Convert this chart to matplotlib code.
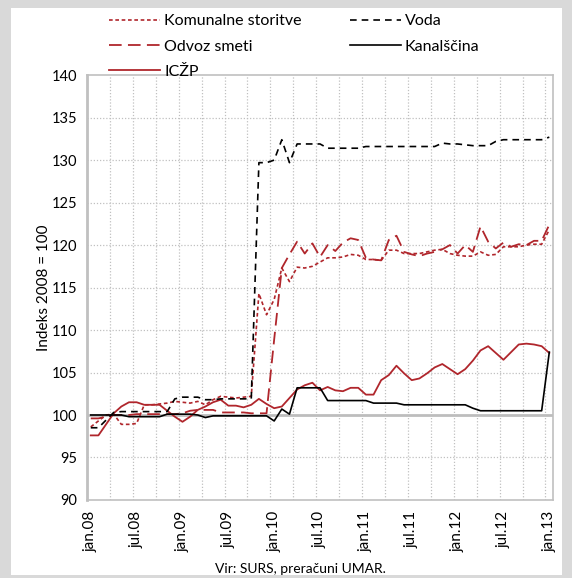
import matplotlib
matplotlib.use("Agg")
import matplotlib.pyplot as plt
from matplotlib.patches import Rectangle

# mesečni indeksi, 2008 = 100 (jan.08 ... jan.13)
komunalne = [98.6, 99.3, 100.0, 100.1, 98.9, 98.9, 99.0, 101.2, 101.2, 101.3,
             101.4, 101.6, 101.5, 101.4, 101.6, 101.2, 101.8, 102.2, 102.1, 102.0,
             102.1, 102.2, 114.3, 111.8, 113.6, 117.3, 115.7, 117.4, 117.3, 117.5,
             118.0, 118.5, 118.5, 118.6, 118.9, 118.8, 118.3, 118.3, 118.2, 119.4,
             119.4, 119.0, 119.0, 119.0, 119.2, 119.4, 119.5, 119.0, 118.8, 118.7,
             118.7, 119.2, 118.8, 118.9, 119.8, 119.8, 119.8, 120.0, 120.1, 120.1,
             121.8]
odvoz = [99.6, 99.6, 99.8, 100.0, 100.0, 100.0, 100.1, 100.1, 100.1, 100.1,
         100.1, 100.1, 100.2, 100.5, 100.6, 100.6, 100.6, 100.3, 100.3, 100.3,
         100.3, 100.2, 100.2, 100.2, 108.9, 117.3, 118.9, 120.4, 119.0, 120.2,
         118.6, 120.0, 119.3, 120.3, 120.8, 120.6, 118.5, 118.3, 118.2, 120.6,
         121.1, 119.2, 118.9, 118.7, 119.0, 119.2, 119.5, 120.0, 119.0, 120.0,
         119.2, 122.2, 120.4, 119.6, 120.3, 119.8, 120.1, 120.0, 120.5, 120.5,
         122.4]
iczp = [97.6, 97.6, 98.9, 100.2, 101.0, 101.5, 101.5, 101.2, 101.2, 101.2,
        100.5, 99.8, 99.2, 99.8, 100.6, 101.0, 101.5, 101.8, 101.1, 101.1,
        100.9, 101.2, 101.9, 101.3, 100.8, 101.0, 102.0, 103.0, 103.5, 103.8,
        102.9, 103.3, 102.9, 102.8, 103.2, 103.2, 102.4, 102.4, 104.1, 104.7,
        105.8, 104.9, 104.1, 104.3, 104.9, 105.6, 106.0, 105.4, 104.8, 105.4,
        106.4, 107.6, 108.1, 107.3, 106.5, 107.4, 108.3, 108.4, 108.3, 108.1,
        107.3]
voda = [98.5, 98.5, 99.4, 100.3, 100.4, 100.4, 100.4, 100.4, 100.4, 100.4,
        100.4, 101.9, 102.1, 102.1, 102.1, 101.8, 101.8, 101.9, 101.9, 101.9,
        101.9, 101.9, 129.7, 129.7, 130.0, 132.4, 129.7, 131.9, 131.9, 131.9,
        131.9, 131.4, 131.4, 131.4, 131.4, 131.4, 131.6, 131.6, 131.6, 131.6,
        131.6, 131.6, 131.6, 131.6, 131.6, 131.6, 132.0, 131.9, 131.9, 131.8,
        131.7, 131.7, 131.7, 132.2, 132.4, 132.4, 132.4, 132.4, 132.4, 132.4,
        132.7]
kanalscina = [100.0, 100.0, 100.0, 100.0, 100.0, 99.8, 99.8, 99.8, 99.8, 99.8,
              100.1, 100.1, 100.1, 100.1, 100.0, 99.7, 99.9, 99.9, 99.9, 99.9,
              99.9, 99.9, 99.9, 99.9, 99.3, 100.7, 100.1, 103.2, 103.2, 103.2,
              103.2, 101.7, 101.7, 101.7, 101.7, 101.7, 101.7, 101.4, 101.4, 101.4,
              101.4, 101.2, 101.2, 101.2, 101.2, 101.2, 101.2, 101.2, 101.2, 101.2,
              100.8, 100.5, 100.5, 100.5, 100.5, 100.5, 100.5, 100.5, 100.5, 100.5,
              107.4]

months = list(range(len(voda)))
tick_labels = ["jan.08", "jul.08", "jan.09", "jul.09", "jan.10", "jul.10",
               "jan.11", "jul.11", "jan.12", "jul.12", "jan.13"]

red = "#b0262c"
grid_col = "#c0c0c0"

plt.rcParams['font.family'] = ['Lato', 'DejaVu Sans']

fig = plt.figure(figsize=(5.72, 5.78), dpi=100, facecolor="#d9d9d9")
# bela podlaga znotraj sivega okvirja
fig.patches.append(Rectangle((11 / 572, 3 / 578), 551 / 572, 567 / 578,
                             transform=fig.transFigure, facecolor="white",
                             edgecolor="none", zorder=-10))

ax = fig.add_axes([0.152, 0.135, 0.815, 0.735])
ax.set_zorder(1)

# mreža
for k in range(1, 21):
    ax.axvline(-0.5 + 3 * k, color=grid_col, lw=0.9, ls=(0, (1, 1.5)), zorder=1)
for yv in range(95, 140, 5):
    if yv != 100:
        ax.axhline(yv, color=grid_col, lw=0.9, ls=(0, (1, 1.5)), zorder=1)
ax.axhline(100, color="#bdbdbd", lw=2, zorder=1)

ax.plot(months, komunalne, color=red, lw=1.2, ls=(0, (2.2, 1.6)), label="Komunalne storitve", zorder=3)
ax.plot(months, odvoz, color=red, lw=1.3, ls=(0, (7, 3.5)), label="Odvoz smeti", zorder=3)
ax.plot(months, iczp, color=red, lw=1.3, label="ICŽP", zorder=3)
ax.plot(months, voda, color="black", lw=1.2, ls=(0, (4, 3)), label="Voda", zorder=3)
ax.plot(months, kanalscina, color="black", lw=1.2, label="Kanalščina", zorder=3)

ax.set_xlim(-0.5, 60.5)
ax.set_ylim(90, 140)
ax.set_yticks(range(90, 141, 5))
ax.set_xticks(range(0, 61, 6))
ax.set_xticklabels(tick_labels, rotation=90, fontsize=11)
ax.tick_params(axis='y', labelsize=10.5, length=0, pad=7)
ax.tick_params(axis='x', length=0, pad=8)
for s in ax.spines.values():
    s.set_color(grid_col)
    s.set_linewidth(1.2)
ax.spines['left'].set_linewidth(2)
ax.set_ylabel("Indeks 2008 = 100", fontsize=11)
ax.yaxis.set_label_coords(-0.077, 0.5)

handles, labels = ax.get_legend_handles_labels()
fig.legend(handles, labels, ncol=2, loc="upper left",
           bbox_to_anchor=(109 / 572, 1 - 14 / 578), frameon=False,
           fontsize=11.5, handlelength=3.2, handletextpad=0.25,
           columnspacing=3.0, labelspacing=0.7, borderpad=0, borderaxespad=0)

fig.text(0.525, 0.005, "Vir: SURS, preračuni UMAR.", ha="center", va="bottom", fontsize=10)

fig.savefig("out.png", dpi=100, facecolor=fig.get_facecolor())
